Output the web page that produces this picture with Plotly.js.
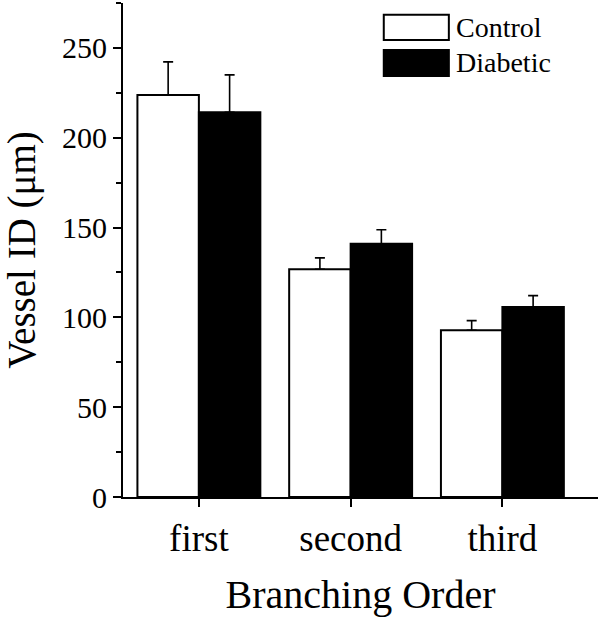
<!DOCTYPE html>
<html>
<head>
<meta charset="utf-8">
<script src="https://cdn.plot.ly/plotly-3.0.1.min.js"></script>
<style>html,body{margin:0;padding:0;background:#fff;}#chart{width:600px;height:621px;}</style>
</head>
<body>
<div id="chart"></div>
<script>
const categories = ["first", "second", "third"];
const seriesNames = ["Control", "Diabetic"];
const controlValues = [223.8, 126.8, 92.8];
const controlErrors = [18.4, 6.3, 5.4];
const diabeticValues = [214.2, 141.0, 105.8];
const diabeticErrors = [20.8, 7.8, 6.3];
const yTickVals = [0, 50, 100, 150, 200, 250];

const FONT = "Times New Roman, Liberation Serif, DejaVu Serif, serif";

const errStyle = {color: "#000", thickness: 1.6, width: 5};

const traces = [
  {
    type: "bar", name: seriesNames[0], x: categories, y: controlValues,
    marker: {color: "#ffffff", line: {color: "#000", width: 2}},
    error_y: Object.assign({type: "data", array: controlErrors, symmetric: false, arrayminus: [0,0,0]}, errStyle),
    showlegend: false
  },
  {
    type: "bar", name: seriesNames[1], x: categories, y: diabeticValues,
    marker: {color: "#000000", line: {color: "#000", width: 2}},
    error_y: Object.assign({type: "data", array: diabeticErrors, symmetric: false, arrayminus: [0,0,0]}, errStyle),
    showlegend: false
  }
];

const layout = {
  width: 600, height: 621,
  margin: {l: 123, r: 2, t: 3, b: 124},
  paper_bgcolor: "#fff", plot_bgcolor: "#fff",
  barmode: "group", bargap: 0.19, bargroupgap: 0,
  font: {family: FONT, color: "#000"},
  showlegend: false,
  xaxis: {
    type: "category", range: [-0.5, 2.63],
    showline: true, linecolor: "#000", linewidth: 2,
    ticks: "outside", ticklen: 8, tickwidth: 2, tickcolor: "#000",
    showgrid: false, zeroline: false,
    tickfont: {family: FONT, size: 37, color: "#000"},
    title: {text: "Branching Order", font: {family: FONT, size: 40, color: "#000"}, standoff: 22}
  },
  yaxis: {
    range: [0, 275],
    tickvals: yTickVals,
    showline: true, linecolor: "#000", linewidth: 2,
    ticks: "outside", ticklen: 8, tickwidth: 2, tickcolor: "#000",
    minor: {dtick: 25, tick0: 0, ticks: "outside", ticklen: 5, tickwidth: 2, tickcolor: "#000", showgrid: false},
    showgrid: false, zeroline: false,
    tickfont: {family: FONT, size: 30, color: "#000"},
    title: {text: "Vessel ID (μm)", font: {family: FONT, size: 39, color: "#000"}, standoff: 14}
  },
  shapes: [
    {type: "rect", xref: "paper", yref: "paper", x0: 0.549, x1: 0.686, y0: 0.925, y1: 0.976,
     fillcolor: "#fff", line: {color: "#000", width: 2}},
    {type: "rect", xref: "paper", yref: "paper", x0: 0.549, x1: 0.686, y0: 0.852, y1: 0.905,
     fillcolor: "#000", line: {color: "#000", width: 2}}
  ],
  annotations: [
    {xref: "paper", yref: "paper", x: 0.697, y: 0.951, xanchor: "left", yanchor: "middle",
     text: seriesNames[0], showarrow: false, font: {family: FONT, size: 28, color: "#000"}},
    {xref: "paper", yref: "paper", x: 0.697, y: 0.879, xanchor: "left", yanchor: "middle",
     text: seriesNames[1], showarrow: false, font: {family: FONT, size: 28, color: "#000"}}
  ]
};

Plotly.newPlot("chart", traces, layout, {displayModeBar: false, staticPlot: true});
</script>
</body>
</html>
